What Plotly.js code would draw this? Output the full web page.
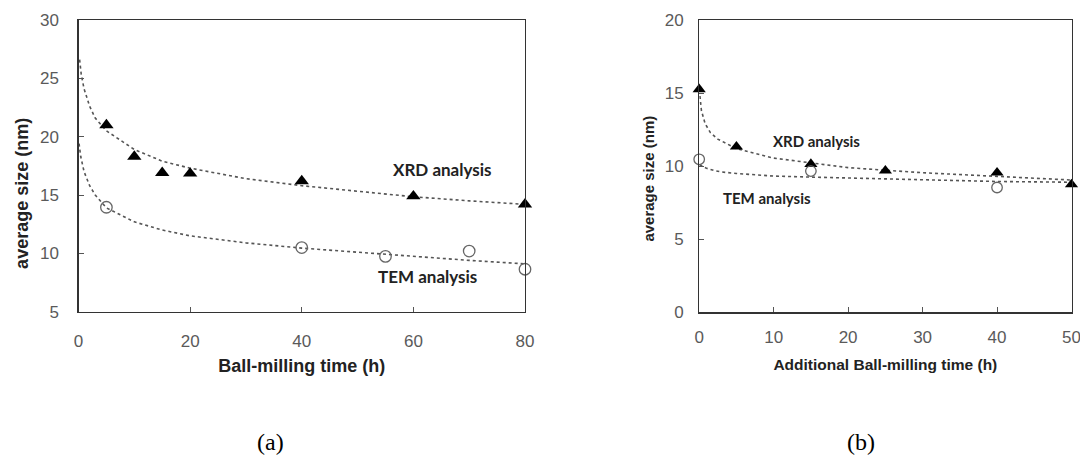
<!DOCTYPE html>
<html>
<head>
<meta charset="utf-8">
<script src="https://cdn.plot.ly/plotly-3.0.1.min.js"></script>
<style>
html,body{margin:0;padding:0;background:#fff;}
#chart{width:1080px;height:457px;}
</style>
</head>
<body>
<div id="chart"></div>
<script>
// ---- Panel (a): ball-milling time ----
const aXrdTime = [5, 10, 15, 20, 40, 60, 80];
const aXrdSize = [21.0, 18.3, 16.9, 16.85, 16.2, 14.9, 14.2];
const aTemTime = [5, 40, 55, 70, 80];
const aTemSize = [13.95, 10.5, 9.74, 10.2, 8.64];
// dotted trend curves
const aXrdFitTime = [0.2, 0.5, 1, 2, 3, 5, 10, 15, 20, 30, 40, 50, 60, 70, 80];
const aXrdFitSize = [26.6, 25.3, 24.1, 22.6, 21.6, 20.5, 18.9, 17.9, 17.3, 16.4, 15.8, 15.3, 14.85, 14.5, 14.2];
const aTemFitTime = [0.1, 0.4, 1, 2, 3, 5, 10, 15, 20, 30, 40, 50, 60, 70, 80];
const aTemFitSize = [19.4, 18.3, 17.0, 15.8, 15.0, 13.9, 12.7, 12.0, 11.5, 10.9, 10.45, 10.1, 9.7, 9.4, 9.1];

// ---- Panel (b): additional ball-milling time ----
const bXrdTime = [0, 5, 15, 25, 40, 50];
const bXrdSize = [15.26, 11.33, 10.14, 9.69, 9.55, 8.75];
const bTemTime = [0, 15, 40];
const bTemSize = [10.47, 9.66, 8.54];
const bXrdFitTime = [0.1, 0.3, 0.8, 1.5, 2.5, 5, 10, 15, 20, 25, 30, 40, 50];
const bXrdFitSize = [14.8, 13.8, 12.9, 12.3, 11.85, 11.2, 10.55, 10.2, 9.9, 9.72, 9.55, 9.3, 9.05];
const bTemFitTime = [0.05, 1, 2, 3, 5, 10, 15, 20, 25, 30, 40, 50];
const bTemFitSize = [10.1, 9.85, 9.7, 9.6, 9.5, 9.32, 9.25, 9.18, 9.11, 9.05, 8.95, 8.9];

const aXTicks = [0, 20, 40, 60, 80];
const aYTicks = [5, 10, 15, 20, 25, 30];
const bXTicks = [0, 10, 20, 30, 40, 50];
const bYTicks = [0, 5, 10, 15, 20];

const labelXrd = 'XRD analysis';
const labelTem = 'TEM analysis';

const W = 1080, H = 457;
const fitLine = {color: '#555', width: 1.6, dash: 'dot'};

const traces = [
  {x: aXrdFitTime, y: aXrdFitSize, mode: 'lines', line: fitLine, xaxis: 'x', yaxis: 'y', hoverinfo: 'skip', showlegend: false},
  {x: aTemFitTime, y: aTemFitSize, mode: 'lines', line: fitLine, xaxis: 'x', yaxis: 'y', hoverinfo: 'skip', showlegend: false},
  {x: aXrdTime, y: aXrdSize, mode: 'markers', name: 'XRD', xaxis: 'x', yaxis: 'y', cliponaxis: false,
   marker: {symbol: 'triangle-up', size: 12.5, color: '#000'}, showlegend: false},
  {x: aTemTime, y: aTemSize, mode: 'markers', name: 'TEM', xaxis: 'x', yaxis: 'y', cliponaxis: false,
   marker: {symbol: 'circle-open', size: 11.5, color: '#666', line: {width: 1.3, color: '#666'}}, showlegend: false},
  {x: bXrdFitTime, y: bXrdFitSize, mode: 'lines', line: fitLine, xaxis: 'x2', yaxis: 'y2', hoverinfo: 'skip', showlegend: false},
  {x: bTemFitTime, y: bTemFitSize, mode: 'lines', line: fitLine, xaxis: 'x2', yaxis: 'y2', hoverinfo: 'skip', showlegend: false},
  {x: bXrdTime, y: bXrdSize, mode: 'markers', name: 'XRD', xaxis: 'x2', yaxis: 'y2', cliponaxis: false,
   marker: {symbol: 'triangle-up', size: 11.5, color: '#000'}, showlegend: false},
  {x: bTemTime, y: bTemSize, mode: 'markers', name: 'TEM', xaxis: 'x2', yaxis: 'y2', cliponaxis: false,
   marker: {symbol: 'circle-open', size: 10.5, color: '#666', line: {width: 1.3, color: '#666'}}, showlegend: false}
];

const tickFont = {family: 'Liberation Sans, Arial, sans-serif', size: 17, color: '#5a5a5a'};
function axisBase(extra) {
  return Object.assign({
    showline: true, linecolor: '#333', linewidth: 1.2, mirror: true,
    ticks: 'inside', ticklen: 5, tickcolor: '#555', tickwidth: 1,
    showgrid: false, zeroline: false, tickfont: tickFont, automargin: false,
    ticklabeloverflow: 'allow', fixedrange: true
  }, extra);
}
const titleFont = (s) => ({family: 'Liberation Sans, Arial, sans-serif', size: s, color: '#222', weight: 'bold'});

const layout = {
  width: W, height: H,
  margin: {l: 0, r: 0, t: 0, b: 0},
  paper_bgcolor: '#fff', plot_bgcolor: '#fff',
  showlegend: false,
  xaxis: axisBase({
    domain: [78.5 / W, 525 / W], range: [0, 80], tickvals: aXTicks, ticklabelstandoff: 14,
    anchor: 'y',
    title: {text: 'Ball-milling time (h)', font: titleFont(18), standoff: 9}
  }),
  yaxis: axisBase({
    domain: [1 - 311.7 / H, 1 - 20 / H], range: [5, 30], tickvals: aYTicks, ticklabelstandoff: 15,
    anchor: 'x',
    title: {text: 'average size (nm)&nbsp;&nbsp;&nbsp;&nbsp;&nbsp;&nbsp;&nbsp;&nbsp;&nbsp;&nbsp;&nbsp;', font: titleFont(18), standoff: 6}
  }),
  xaxis2: axisBase({
    domain: [699.2 / W, 1071.5 / W], range: [0, 50], tickvals: bXTicks, ticklabelstandoff: 9,
    anchor: 'y2',
    title: {text: 'Additional Ball-milling time (h)', font: titleFont(15.5), standoff: 13}
  }),
  yaxis2: axisBase({
    domain: [1 - 312.3 / H, 1 - 20 / H], range: [0, 20], tickvals: bYTicks, ticklabelstandoff: 11,
    anchor: 'x2',
    title: {text: 'average size (nm)&nbsp;&nbsp;&nbsp;&nbsp;&nbsp;&nbsp;', font: titleFont(15), standoff: 6}
  }),
  annotations: [
    {xref: 'x', yref: 'y', x: 65.2, y: 17.2, text: labelXrd, showarrow: false,
     font: {family: 'Lato, sans-serif', size: 17, color: '#222', weight: 'bold'}},
    {xref: 'x', yref: 'y', x: 62.5, y: 8.04, text: labelTem, showarrow: false,
     font: {family: 'Lato, sans-serif', size: 17, color: '#222', weight: 'bold'}},
    {xref: 'x2', yref: 'y2', x: 15.75, y: 11.71, text: labelXrd, showarrow: false,
     font: {family: 'Lato, sans-serif', size: 15, color: '#222', weight: 'bold'}},
    {xref: 'x2', yref: 'y2', x: 9.1, y: 7.79, text: labelTem, showarrow: false,
     font: {family: 'Lato, sans-serif', size: 15, color: '#222', weight: 'bold'}},
    {xref: 'paper', yref: 'paper', x: 270 / W, y: 1 - 441.5 / H, xanchor: 'center', yanchor: 'middle',
     text: '(a)', showarrow: false,
     font: {family: 'Liberation Serif, Times New Roman, serif', size: 24, color: '#000'}},
    {xref: 'paper', yref: 'paper', x: 861 / W, y: 1 - 441.5 / H, xanchor: 'center', yanchor: 'middle',
     text: '(b)', showarrow: false,
     font: {family: 'Liberation Serif, Times New Roman, serif', size: 24, color: '#000'}}
  ]
};

Plotly.newPlot('chart', traces, layout, {displayModeBar: false, staticPlot: true});
</script>
</body>
</html>
